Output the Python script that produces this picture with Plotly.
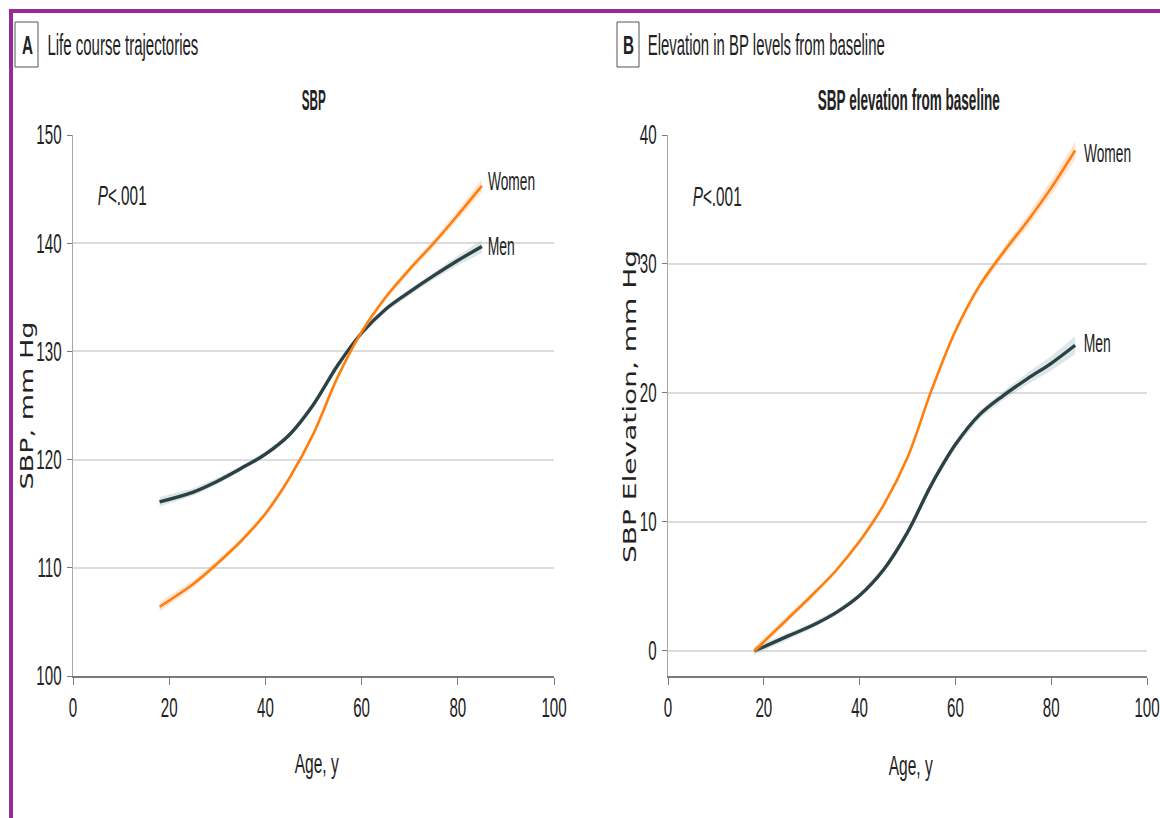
import json
import numpy as np
import plotly.graph_objects as go

# ---- data -------------------------------------------------------------
ages = [18, 25, 30, 35, 40, 45, 50, 55, 60, 65, 70, 75, 80, 85]

# Panel A: SBP life-course trajectories (mm Hg)
sbp_men = [116.1, 117.0, 118.0, 119.2, 120.5, 122.3, 125.1, 128.7, 131.7, 133.9, 135.5, 137.0, 138.4, 139.7]
sbp_women = [106.4, 108.5, 110.4, 112.5, 115.0, 118.3, 122.4, 127.6, 131.8, 135.0, 137.6, 140.0, 142.6, 145.3]
sbp_men_ci = [0.45, 0.35, 0.3, 0.25, 0.22, 0.2, 0.2, 0.2, 0.22, 0.25, 0.3, 0.35, 0.45, 0.6]
sbp_women_ci = [0.45, 0.35, 0.3, 0.25, 0.22, 0.2, 0.2, 0.2, 0.22, 0.25, 0.3, 0.35, 0.45, 0.6]

# Panel B: SBP elevation from baseline (mm Hg)
elev_men = [0.0, 1.15, 1.95, 2.95, 4.3, 6.3, 9.2, 12.9, 16.0, 18.3, 19.8, 21.1, 22.3, 23.7]
elev_women = [0.0, 2.5, 4.3, 6.2, 8.5, 11.3, 15.0, 20.2, 24.8, 28.3, 30.9, 33.3, 35.9, 38.8]
elev_men_ci = [0.3, 0.25, 0.22, 0.2, 0.2, 0.2, 0.2, 0.22, 0.25, 0.3, 0.35, 0.45, 0.55, 0.7]
elev_women_ci = [0.3, 0.25, 0.22, 0.2, 0.2, 0.2, 0.2, 0.22, 0.25, 0.3, 0.35, 0.45, 0.55, 0.7]

x_ticks = [0, 20, 40, 60, 80, 100]
sbp_ticks = [100, 110, 120, 130, 140, 150]
elev_ticks = [0, 10, 20, 30, 40]

# ---- styling ----------------------------------------------------------
W, H = 1160, 818
SANS = "Liberation Sans, Arial, sans-serif"
WIDE = "DejaVu Sans, Verdana, sans-serif"
MEN_C = "#2b4145"
WOMEN_C = "#ff7f0e"
MEN_BAND = "rgba(160,185,190,0.35)"
WOMEN_BAND = "rgba(255,170,100,0.30)"
GRID = "#dcdcdc"
TXT = "#222222"
TICK_SQUEEZE = 0.56   # condensed look for tick labels


def px(x):
    return x / W


def py(y):
    return 1 - y / H


fig = go.Figure()


def add_series(xa, ya, x, y, ci, color, band, width):
    y = np.asarray(y, dtype=float)
    ci = np.asarray(ci, dtype=float)
    upper = y + ci
    lower = y - ci
    fig.add_trace(go.Scatter(x=list(x) + list(x)[::-1], y=list(upper) + list(lower)[::-1],
                             fill="toself", fillcolor=band, line=dict(width=0),
                             mode="lines", hoverinfo="skip", showlegend=False,
                             xaxis=xa, yaxis=ya))
    fig.add_trace(go.Scatter(x=x, y=y, mode="lines",
                             line=dict(color=color, width=width, shape="spline", smoothing=1.0),
                             showlegend=False, xaxis=xa, yaxis=ya))


add_series("x", "y", ages, sbp_men, sbp_men_ci, MEN_C, MEN_BAND, 3.4)
add_series("x", "y", ages, sbp_women, sbp_women_ci, WOMEN_C, WOMEN_BAND, 2.6)
add_series("x2", "y2", ages, elev_men, elev_men_ci, MEN_C, MEN_BAND, 3.4)
add_series("x2", "y2", ages, elev_women, elev_women_ci, WOMEN_C, WOMEN_BAND, 2.6)

tickfont = dict(family=SANS, size=27, color=TXT)
xaxis_common = dict(range=[0, 100], tickvals=x_ticks, showgrid=False, zeroline=False,
                    showline=True, linecolor="#7a7a7a", linewidth=1.5,
                    ticks="outside", ticklen=7, tickcolor="#7a7a7a", tickwidth=1,
                    tickfont=tickfont, automargin=False, fixedrange=True,
                    ticklabeloverflow="allow")
yaxis_common = dict(showgrid=True, gridcolor=GRID, gridwidth=1.6, zeroline=False,
                    showline=True, linecolor="#a8a8a8", linewidth=1,
                    ticks="outside", ticklen=5, tickcolor="#7a7a7a", tickwidth=1,
                    tickfont=tickfont, automargin=False, fixedrange=True)

fig.update_layout(
    width=W, height=H,
    margin=dict(l=0, r=0, t=0, b=0),
    paper_bgcolor="white", plot_bgcolor="white",
    xaxis=dict(domain=[px(73), px(554)], anchor="y", **xaxis_common),
    yaxis=dict(domain=[py(676), py(135)], anchor="x", range=[100, 150],
               tickvals=sbp_ticks, **yaxis_common),
    xaxis2=dict(domain=[px(668), px(1147)], anchor="y2", **xaxis_common),
    yaxis2=dict(domain=[py(676), py(135)], anchor="x2", range=[-1.94, 40],
                tickvals=elev_ticks, **yaxis_common),
)

# frame edges (top and left)
fig.add_shape(type="line", xref="paper", yref="paper", x0=px(9), x1=1.0, y0=py(11), y1=py(11),
              line=dict(color="#962a96", width=4))
fig.add_shape(type="line", xref="paper", yref="paper", x0=px(11), x1=px(11), y0=py(9), y1=0,
              line=dict(color="#962a96", width=4))

# panel letter boxes
for x0, x1 in [(15, 38), (617, 639)]:
    fig.add_shape(type="rect", xref="paper", yref="paper", x0=px(x0), x1=px(x1),
                  y0=py(67), y1=py(22), line=dict(color="#555555", width=1))

ann = []
ann_widths = []   # rendered width of each text, px


def text(x, y, s, width, size=27, family=SANS, angle=0, color=TXT):
    ann.append(dict(x=px(x), y=py(y), xref="paper", yref="paper", text=s, showarrow=False,
                    xanchor="center", yanchor="middle", textangle=angle,
                    font=dict(family=family, size=size, color=color)))
    ann_widths.append(width)


text(27, 45, "<b>A</b>", 11, size=26)
text(122.5, 45, "Life course trajectories", 151, size=29)
text(628, 45, "<b>B</b>", 11, size=26)
text(766.5, 45, "Elevation in BP levels from baseline", 237, size=29)

text(313.5, 100, "<b>SBP</b>", 24, size=29)
text(909, 100, "<b>SBP elevation from baseline</b>", 182, size=29)

text(121.5, 196, "<i>P</i><.001", 49, size=27)
text(716.5, 197, "<i>P</i><.001", 49, size=27)

text(511.5, 181, "Women", 47, size=26)
text(501.5, 246, "Men", 27, size=26)
text(1107, 153, "Women", 47, size=26)
text(1097.5, 343, "Men", 27, size=26)

text(316, 763, "Age, y", 44, size=28)
text(910, 765, "Age, y", 44, size=28)

text(25.5, 406, "SBP, mm Hg", 168, size=18, family=WIDE, angle=-90)
text(629, 406, "SBP Elevation, mm Hg", 313, size=18, family=WIDE, angle=-90)

fig.update_layout(annotations=ann)

# set each text run to its drawn width (condensed typeface look)
post = """
var gd = document.getElementById('{plot_id}');
var widths = %s;
var tickSqueeze = %f;
function fit(el, w) {
  var n = el.getComputedTextLength();
  if (n > 0 && w > 0) {
    el.setAttribute('textLength', w);
    el.setAttribute('lengthAdjust', 'spacingAndGlyphs');
  }
}
gd.querySelectorAll('.xaxislayer-above text, .yaxislayer-above text').forEach(function (t) {
  fit(t, t.getComputedTextLength() * tickSqueeze);
});
gd.querySelectorAll('g.annotation').forEach(function (g) {
  var i = parseInt(g.getAttribute('data-index'));
  var t = g.querySelector('text.annotation-text');
  if (t && widths[i]) fit(t, widths[i]);
});
""" % (json.dumps(ann_widths), TICK_SQUEEZE)

fig.write_html("out.html", post_script=post)
